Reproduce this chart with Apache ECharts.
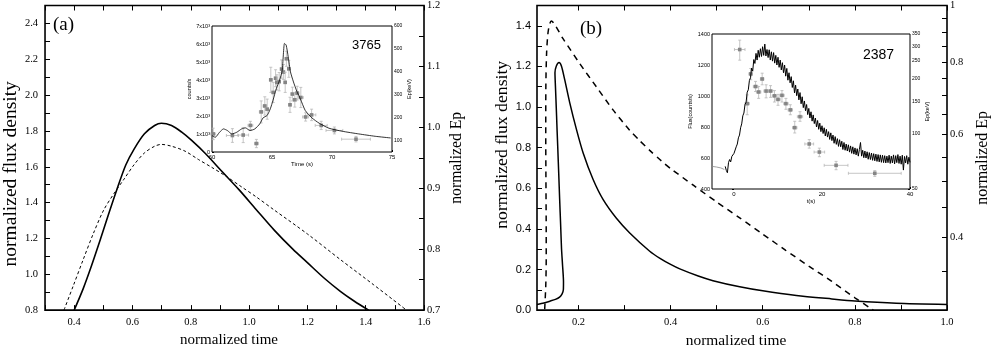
<!DOCTYPE html>
<html><head><meta charset="utf-8">
<script src="https://cdn.jsdelivr.net/npm/echarts@6/dist/echarts.min.js"></script>
<style>html,body{margin:0;padding:0;background:#fff}#c{width:998px;height:353px}</style>
</head><body><div id="c"></div>
<script>
// ---------------- DATA ----------------
const aSolidT    = [0.400,0.431,0.460,0.490,0.519,0.548,0.577,0.606,0.641,0.676,0.699,0.734,0.769,0.803,0.850,0.908,0.966,1.024,1.087,1.150,1.200,1.260,1.313,1.360,1.410];
const aSolidFlux = [0.80,0.92,1.05,1.195,1.34,1.48,1.61,1.70,1.784,1.83,1.843,1.83,1.793,1.747,1.674,1.572,1.471,1.362,1.245,1.14,1.065,0.975,0.905,0.851,0.80];
const aDashT  = [0.365,0.397,0.431,0.466,0.501,0.536,0.571,0.606,0.641,0.676,0.699,0.734,0.780,0.827,0.873,0.920,0.975,1.024,1.087,1.200,1.313,1.426,1.540];
const aDashEp = [0.700,0.740,0.783,0.826,0.864,0.891,0.915,0.939,0.958,0.969,0.972,0.969,0.961,0.947,0.934,0.920,0.902,0.886,0.864,0.825,0.783,0.742,0.700];
const aXLabels = [0.4,0.6,0.8,1.0,1.2,1.4,1.6];
const aYLabels = [0.8,1.0,1.2,1.4,1.6,1.8,2.0,2.2,2.4];
const aRLabels = [0.7,0.8,0.9,1.0,1.1,1.2];

const inAT      = [60.0,60.27,60.63,60.96,61.29,61.65,62.06,62.47,62.8,63.16,63.57,63.98,64.26,64.59,64.86,65.08,65.36,65.63,65.85,66.04,66.18,66.35,66.54,66.79,67.06,67.36,67.77,68.32,68.93,69.75,70.85,72.23,73.6,74.89];
const inACounts = [911,818,1097,1283,1190,1004,1097,1283,1339,1190,1283,1562,1898,2028,2400,2866,3518,3983,4542,6032,5939,5287,4449,3890,3387,2959,2307,1898,1600,1320,1153,1004,873,780];
const inAPtT   = [60.1,61.7,62.6,63.2,63.7,64.1,64.4,64.6,64.9,65.1,65.3,65.4,65.6,65.8,65.95,66.1,66.2,66.4,66.5,66.7,66.9,67.1,67.4,67.8,68.3,69.1,70.2,72.0];
const inAPtEp  = [129,122,124,166,87,225,251,237,365,310,372,354,357,412,399,354,457,413,256,303,278,307,288,203,212,166,144,106];
const inAPtDt  = [0.2,0.5,0.45,0.2,0.15,0.15,0.15,0.12,0.12,0.1,0.1,0.1,0.1,0.1,0.1,0.1,0.1,0.1,0.1,0.12,0.15,0.15,0.2,0.25,0.35,0.5,0.7,1.2];
const inAPtErr = [25,30,33,18,18,48,40,44,55,44,37,33,40,40,33,44,33,37,33,30,32,30,44,18,25,18,15,12];
const inAXLabels = [60,65,70,75];
const inAYLabels = [0,1000,2000,3000,4000,5000,6000,7000];
const inARLabels = [100,200,300,400,500,600];

const bSolidT    = [0.110,0.125,0.138,0.150,0.159,0.1645,0.1672,0.1675,0.1655,0.1633,0.1613,0.1592,0.1572,0.1552,0.1537,0.1525,0.1511,0.1500,0.1490,0.1520,0.1578,0.1630,0.170,0.181,0.1956,0.210,0.2316,0.2533,0.2824,0.3113,0.3547,0.377,0.400,0.420,0.460,0.492,0.550,0.600,0.673,0.750,0.800,0.890,1.000];
const bSolidFlux = [0.028,0.035,0.044,0.053,0.064,0.080,0.100,0.140,0.220,0.300,0.420,0.545,0.670,0.792,0.880,0.956,1.040,1.103,1.169,1.202,1.219,1.202,1.136,1.022,0.890,0.775,0.644,0.545,0.452,0.380,0.290,0.255,0.225,0.203,0.168,0.145,0.115,0.095,0.072,0.055,0.045,0.034,0.028];
const bDashT  = [0.1267,0.1290,0.1300,0.1300,0.1295,0.1290,0.1292,0.1310,0.1345,0.1410,0.1665,0.2027,0.2390,0.2750,0.3110,0.3330,0.3547,0.3800,0.4000,0.4500,0.5000,0.5500,0.6000,0.6500,0.7000,0.7500,0.8000,0.8400];
const bDashEp = [0.301,0.330,0.366,0.407,0.485,0.592,0.723,0.835,0.905,0.941,0.877,0.795,0.725,0.662,0.611,0.586,0.564,0.541,0.525,0.491,0.460,0.432,0.405,0.380,0.357,0.336,0.315,0.300];
const bXLabels = [0.2,0.4,0.6,0.8,1.0];
const bXTicks  = [0.2,0.3,0.4,0.5,0.6,0.7,0.8,0.9,1.0];
const bYLabels = [0.0,0.2,0.4,0.6,0.8,1.0,1.2,1.4];
const bRLabels = [0.4,0.6,0.8,1];
const bRTicks  = [0.3,0.35,0.4,0.45,0.5,0.55,0.6,0.65,0.7,0.75,0.8,0.85,0.9,0.95,1.0];

const inBPreT = [-5,-4,-3,-2.2];
const inBPreC = [546,542,536,526];
const inBT = [-2,-1.75,-1.5,-1.25,-1,-0.75,-0.5,-0.25,0,0.25,0.5,0.75,1,1.25,1.5,1.75,2,2.25,2.5,2.75,3,3.25,3.5,3.75,4,4.25,4.5,4.75,5,5.25,5.5,5.75,6,6.25,6.5,6.75,7,7.25,7.5,7.75,8,8.25,8.5,8.75,9,9.25,9.5,9.75,10,10.25,10.5,10.75,11,11.25,11.5,11.75,12,12.25,12.5,12.75,13,13.25,13.5,13.75,14,14.25,14.5,14.75,15,15.25,15.5,15.75,16,16.25,16.5,16.75,17,17.25,17.5,17.75,18,18.25,18.5,18.75,19,19.25,19.5,19.75,20,20.25,20.5,20.75,21,21.25,21.5,21.75,22,22.25,22.5,22.75,23,23.25,23.5,23.75,24,24.25,24.5,24.75,25,25.25,25.5,25.75,26,26.25,26.5,26.75,27,27.25,27.5,27.75,28,28.25,28.5,28.75,29,29.25,29.5,29.75,30,30.25,30.5,30.75,31,31.25,31.5,31.75,32,32.25,32.5,32.75,33,33.25,33.5,33.75,34,34.25,34.5,34.75,35,35.25,35.5,35.75,36,36.25,36.5,36.75,37,37.25,37.5,37.75,38,38.25,38.5,38.75,39,39.25,39.5,39.75,40];
const inBC = [546,520,505,570,590,575,610,598,630,622,672,690,730,748,795,820,872,890,945,960,1025,1040,1100,1118,1180,1160,1235,1210,1275,1232,1295,1250,1305,1255,1318,1262,1335,1258,1300,1248,1298,1232,1285,1225,1280,1212,1262,1200,1250,1185,1232,1168,1215,1150,1200,1128,1178,1102,1150,1085,1125,1055,1098,1020,1070,1002,1045,975,1022,950,995,925,968,905,945,880,920,858,898,838,878,822,858,800,842,785,825,770,808,758,795,742,785,735,770,720,762,712,748,695,738,688,725,675,718,672,708,655,700,650,690,645,685,638,678,630,672,625,665,620,660,612,655,700,612,650,602,645,600,640,592,635,590,632,585,628,582,625,578,622,575,620,572,618,570,615,568,612,570,618,565,612,568,620,562,615,570,622,565,612,560,618,522,610,568,615,560,605,572];
const inBPtT   = [1.3,3.0,3.8,4.9,5.6,6.4,7.3,8.3,9.2,10.0,10.9,11.8,12.8,13.8,15.0,17.1,19.4,23.2,32.0];
const inBPtEp  = [288,146,212,181,169,199,171,171,161,154,162,146,135,108,124,88,79.5,67.3,60.9];
const inBPtDt  = [1.2,0.5,0.4,0.5,0.5,0.4,0.5,0.5,0.5,0.5,0.5,0.5,0.5,0.5,0.6,1.0,1.2,2.7,6.0];
const inBPtLo  = [252,127,197,170,156,185,157,158,149,143,149,136,127,101,117,83.5,75,63.7,58.6];
const inBPtHi  = [324,163,227,193,181,214,185,183,172,164,172,156,144,117,132,93,83.5,70.7,63];
const inBXLabels = [0,20,40];
const inBXTicks  = [0,10,20,30,40];
const inBYLabels = [400,600,800,1000,1200,1400];
const inBRLabels = [50,100,150,200,250,300,350];
const inBRTicks  = [50,60,70,80,90,100,110,120,130,140,150,160,170,180,190,200,210,220,230,240,250,260,270,280,290,300,310,320,330,340,350];

// ---------------- CHART ----------------
const SERIF = '"Liberation Serif","Times New Roman",serif';
const SANS  = '"Liberation Sans",Arial,sans-serif';
const zip = (a, b) => a.map((v, i) => [v, b[i]]);

// Ticks point into the plot: the axis sits tickLen inside the frame (drawn by the grid border)
// and its ticks run outward to the frame.
function ax(o) {
  const tl = o.tickLen || 5;
  const tick = {show: true, inside: false, length: tl, lineStyle: {color: '#000', width: o.tickW || 1}};
  if (Array.isArray(o.ticks)) tick.customValues = o.ticks;
  const a = {
    type: o.type || 'value', gridIndex: o.grid, position: o.pos, offset: -tl,
    min: o.min, max: o.max,
    name: o.name || '', nameLocation: 'middle', nameGap: (o.nameGap || 20) + tl,
    nameTextStyle: {fontFamily: o.nameFam || SERIF, fontSize: o.nameSize || 16, color: '#000', padding: o.namePad || 0},
    axisLine: {show: false},
    axisTick: tick,
    axisLabel: o.labels ? {show: true, customValues: o.labels, fontFamily: o.fam || SERIF, fontSize: o.fs || 11, color: '#000', margin: (o.margin || 6) + tl, formatter: o.fmt || (v => String(v))} : {show: false},
    splitLine: {show: false}
  };
  if (o.interval) a.interval = o.interval;
  if (a.type === 'log') a.logBase = 10;
  return a;
}
const f1 = v => Number(v).toFixed(1);

function errRender(params, api) {
  const x = api.value(0), y = api.value(1), dx = api.value(2), lo = api.value(3), hi = api.value(4);
  const c = api.coord([x, y]);
  const xl = api.coord([x - dx, y]), xr = api.coord([x + dx, y]);
  const yl = api.coord([x, lo]), yh = api.coord([x, hi]);
  const st = {stroke: '#b8b8b8', lineWidth: 0.8};
  const cap = 1.5, s = 1.8;
  return {type: 'group', children: [
    {type: 'line', shape: {x1: xl[0], y1: c[1], x2: xr[0], y2: c[1]}, style: st},
    {type: 'line', shape: {x1: c[0], y1: yl[1], x2: c[0], y2: yh[1]}, style: st},
    {type: 'line', shape: {x1: c[0]-cap, y1: yl[1], x2: c[0]+cap, y2: yl[1]}, style: st},
    {type: 'line', shape: {x1: c[0]-cap, y1: yh[1], x2: c[0]+cap, y2: yh[1]}, style: st},
    {type: 'line', shape: {x1: xl[0], y1: c[1]-cap, x2: xl[0], y2: c[1]+cap}, style: st},
    {type: 'line', shape: {x1: xr[0], y1: c[1]-cap, x2: xr[0], y2: c[1]+cap}, style: st},
    {type: 'rect', shape: {x: c[0]-s, y: c[1]-s, width: 2*s, height: 2*s}, style: {fill: '#858585'}}
  ]};
}

const chart = echarts.init(document.getElementById('c'), null, {renderer: 'canvas'});
const sup3 = v => v === 0 ? '0' : (v/1000) + 'x10\u00b3';
const frame = (l, t, w, h, bw, bg) => ({left: l, top: t, width: w, height: h, show: true, borderColor: '#000', borderWidth: bw, backgroundColor: bg});

chart.setOption({
  animation: false,
  backgroundColor: '#fff',
  grid: [
    frame(42, 5, 382, 310, 1.6, 'transparent'),
    Object.assign(frame(212, 26, 180, 126, 1, '#fff'), {z: 3}),
    frame(537, 5, 410, 306, 1.6, 'transparent'),
    Object.assign(frame(712, 34, 198, 155, 1, '#fff'), {z: 3})
  ],
  xAxis: [
    ax({grid: 0, pos: 'bottom', min: 0.3, max: 1.6, interval: 0.1, labels: aXLabels, fmt: f1, fs: 10.5, margin: 7, name: 'normalized time', nameGap: 20, nameSize: 15, namePad: [0, 11, 0, 0]}),
    ax({grid: 0, pos: 'top', min: 0.3, max: 1.6, interval: 0.1}),
    ax({grid: 1, pos: 'bottom', min: 60, max: 75, interval: 5, tickLen: 2, labels: inAXLabels, fam: SANS, fs: 6, margin: 2, name: 'Time (s)', nameGap: 9, nameSize: 6, nameFam: SANS}),
    ax({grid: 2, pos: 'bottom', min: 0.11, max: 1.0, ticks: bXTicks, labels: bXLabels, fmt: f1, fs: 10.5, margin: 7, name: 'normalized time', nameGap: 20, nameSize: 15.4, namePad: [0, 12, 0, 0]}),
    ax({grid: 2, pos: 'top', min: 0.11, max: 1.0, ticks: bXTicks}),
    ax({grid: 3, pos: 'bottom', min: -5, max: 40, ticks: inBXTicks, tickLen: 2, labels: inBXLabels, fam: SANS, fs: 6, margin: 2, name: 't(s)', nameGap: 8, nameSize: 6, nameFam: SANS})
  ],
  yAxis: [
    ax({grid: 0, pos: 'left', min: 0.8, max: 2.5, interval: 0.1, labels: aYLabels, fmt: f1, fs: 10.5, margin: 7, name: 'normalized flux density', nameGap: 17, nameSize: 19.5, namePad: [0, 32, 0, 0]}),
    ax({grid: 0, pos: 'right', min: 0.7, max: 1.2, interval: 0.05, labels: aRLabels, fmt: f1, fs: 10.5, margin: 3, name: 'normalized Ep', nameGap: 25, nameSize: 15.7}),
    ax({grid: 1, pos: 'left', min: 0, max: 7000, interval: 1000, tickLen: 2, labels: inAYLabels, fmt: sup3, fam: SANS, fs: 5.5, margin: 2, name: 'counts/s', nameGap: 12, nameSize: 5.5, nameFam: SANS}),
    ax({grid: 1, pos: 'right', min: 50, max: 600, ticks: inARLabels, tickLen: 2, labels: inARLabels, fam: SANS, fs: 5, margin: 2, name: 'Ep(keV)', nameGap: 12, nameSize: 5.5, nameFam: SANS}),
    ax({grid: 2, pos: 'left', min: 0, max: 1.5, interval: 0.1, labels: bYLabels, fmt: f1, fam: SANS, fs: 11, margin: 6, name: 'normalized flux density', nameGap: 23, nameSize: 17.7, namePad: [0, 0, 0, 26]}),
    ax({grid: 2, pos: 'right', type: 'log', min: 0.3, max: 1, ticks: bRTicks, labels: bRLabels, fmt: v => (Math.abs(v-1) < 1e-9 ? '1' : Number(v).toFixed(1)), fs: 10.5, margin: 3, name: 'normalized Ep', nameGap: 28, nameSize: 16}),
    ax({grid: 3, pos: 'left', min: 400, max: 1400, interval: 100, tickLen: 2, labels: inBYLabels, fam: SANS, fs: 5.5, margin: 2, name: 'Flux(counts/s)', nameGap: 19, nameSize: 5.5, nameFam: SANS}),
    ax({grid: 3, pos: 'right', type: 'log', min: 50, max: 350, ticks: inBRTicks, tickLen: 2, labels: inBRLabels, fam: SANS, fs: 5, margin: 2, name: 'Ep(keV)', nameGap: 12, nameSize: 5.5, nameFam: SANS})
  ],
  series: [
    {type: 'line', xAxisIndex: 0, yAxisIndex: 0, data: zip(aSolidT, aSolidFlux), showSymbol: false, smooth: 0.3, lineStyle: {color: '#000', width: 1.6}, z: 2},
    {type: 'line', xAxisIndex: 0, yAxisIndex: 1, data: zip(aDashT, aDashEp), showSymbol: false, smooth: 0.3, lineStyle: {color: '#000', width: 1, type: [3, 2.5]}, z: 2},
    {type: 'line', xAxisIndex: 2, yAxisIndex: 2, data: zip(inAT, inACounts), showSymbol: false, smooth: 0.2, lineStyle: {color: '#000', width: 0.8}, z: 5},
    {type: 'custom', xAxisIndex: 2, yAxisIndex: 3, renderItem: errRender, encode: {x: 0, y: 1},
      data: inAPtT.map((t, i) => [t, inAPtEp[i], inAPtDt[i], inAPtEp[i] - inAPtErr[i], inAPtEp[i] + inAPtErr[i]]), z: 4},
    {type: 'line', xAxisIndex: 3, yAxisIndex: 4, data: zip(bSolidT, bSolidFlux), showSymbol: false, smooth: 0.25, lineStyle: {color: '#000', width: 1.5}, z: 2},
    {type: 'line', xAxisIndex: 3, yAxisIndex: 5, data: zip(bDashT, bDashEp), showSymbol: false, smooth: 0.25, lineStyle: {color: '#000', width: 1.5, type: [6, 5]}, z: 2},
    {type: 'line', xAxisIndex: 5, yAxisIndex: 6, data: zip(inBPreT, inBPreC), showSymbol: false, lineStyle: {color: '#888', width: 0.8}, z: 5},
    {type: 'line', xAxisIndex: 5, yAxisIndex: 6, data: zip(inBT, inBC), showSymbol: false, lineStyle: {color: '#000', width: 1}, z: 5},
    {type: 'custom', xAxisIndex: 5, yAxisIndex: 7, renderItem: errRender, encode: {x: 0, y: 1},
      data: inBPtT.map((t, i) => [t, inBPtEp[i], inBPtDt[i], inBPtLo[i], inBPtHi[i]]), z: 4}
  ],
  graphic: [
    {type: 'text', left: 53, top: 16, style: {text: '(a)', font: '19px ' + SERIF, fill: '#000'}},
    {type: 'text', left: 580, top: 20, style: {text: '(b)', font: '19px ' + SERIF, fill: '#000'}},
    {type: 'text', left: 352, top: 39, z: 10, style: {text: '3765', font: '13px ' + SANS, fill: '#000'}},
    {type: 'text', left: 863, top: 48, z: 10, style: {text: '2387', font: '14px ' + SANS, fill: '#000'}}
  ]
});
</script>
</body></html>
